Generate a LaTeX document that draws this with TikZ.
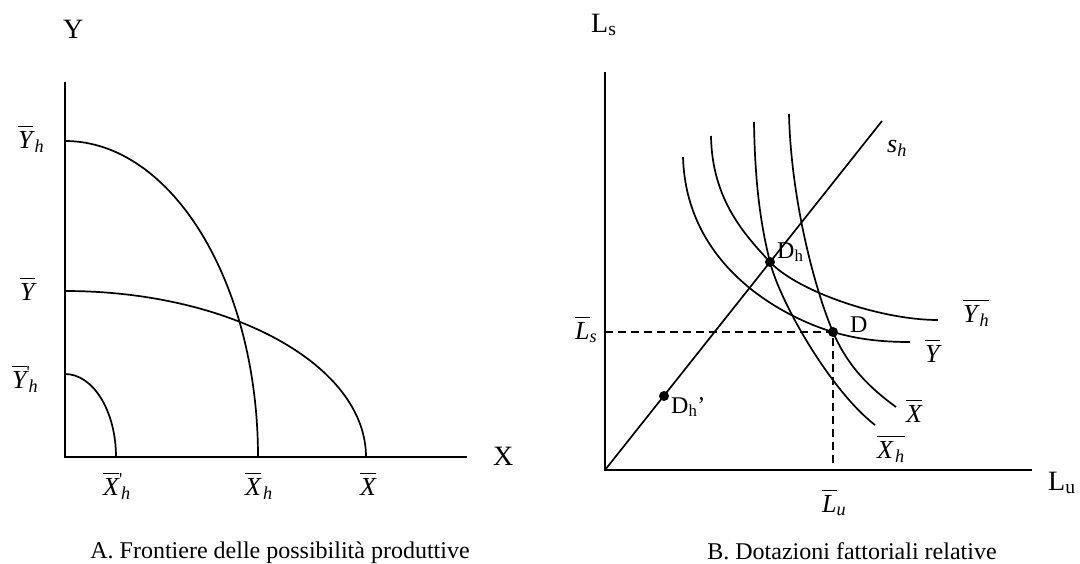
\documentclass[tikz,border=0pt]{standalone}
\usepackage{fontspec}
\setmainfont{Liberation Serif}
\usetikzlibrary{positioning}
\tikzset{
  axis/.style={line width=2pt},
  curve/.style={line width=1.7pt},
  guide/.style={line width=1.6pt,dash pattern=on 8pt off 5pt},
  pt/.style={circle,fill=black,inner sep=0pt,minimum size=10pt},
  lbl/.style={inner sep=0pt,anchor=base west,font=\fontsize{26}{30}\selectfont},
  axlbl/.style={inner sep=0pt,anchor=base west,font=\fontsize{28}{32}\selectfont},
  caption/.style={inner sep=0pt,anchor=base,font=\fontsize{24}{28}\selectfont},
}
\newcommand{\ovl}[1]{\leavevmode\vbox{\hrule height 1.2pt\kern 4pt\hbox{\itshape #1}}}
\newcommand{\sbi}[1]{\kern2pt\textsubscript{\itshape #1}}
\newcommand{\tick}{\rlap{\textsuperscript{\textquotesingle}}}

\begin{document}
\begin{tikzpicture}[x=1pt,y=-1pt]
  \useasboundingbox (0,0) rectangle (1080,563);

  % A. frontiere
  \coordinate (oA) at (65,457);
  \coordinate (yA) at (65,82);
  \coordinate (xA) at (467,457);
  \coordinate (yhA) at (65,141);
  \coordinate (ybA) at (65,291);
  \coordinate (yhpA) at (65,374);
  \coordinate (xhA) at (258,457);
  \coordinate (xbA) at (366,457);
  \coordinate (xhpA) at (116,457);
  \draw[axis] (yA) -- (oA) -- (xA);
  \draw[curve] (yhA) .. controls +(106.6,0) and +(0,-174.5) .. (xhA);
  \draw[curve] (ybA) .. controls +(166.2,0) and +(0,-91.7) .. (xbA);
  \draw[curve] (yhpA) .. controls +(28.2,0) and +(0,-45.8) .. (xhpA);

  \node[axlbl] (labY) at (63,38) {Y};
  \node[axlbl] (labX) at (493,465) {X};
  \node[lbl] (labYh) at (18,148) {\ovl{Y}\sbi{h}};
  \node[lbl] (labYb) at (20,300) {\ovl{Y}};
  \node[lbl] (labYhp) at (12,388) {\ovl{Y}\tick\sbi{h}};
  \node[lbl] (labXhp) at (103,495) {\ovl{X}\tick\sbi{h}};
  \node[lbl] (labXh) at (245,495) {\ovl{X}\sbi{h}};
  \node[lbl] (labXb) at (360,495) {\ovl{X}};
  \node[caption] (capA) at (280,558) {A. Frontiere delle possibilità produttive};

  % B. dotazioni
  \coordinate (oB) at (605,470);
  \coordinate (yB) at (605,72);
  \coordinate (xB) at (1032,470);
  \coordinate (sh) at (882,121);
  \draw[axis] (yB) -- (oB) -- (xB);
  \draw[curve] (oB) -- (sh);
  \node[pt] (Dh) at (770,262) {};
  \node[pt] (Dhp) at (664,396) {};
  \node[pt] (D) at (833,332) {};
  \coordinate (ls) at (605,332);
  \coordinate (lu) at (833,463);
  \draw[guide] (ls) -- (D.center) -- (lu);

  % isoquanti
  \coordinate (yhS) at (711,136);  \coordinate (yhE) at (938,320);
  \coordinate (ybS) at (683,157);  \coordinate (ybE) at (910,342);
  \coordinate (xhS) at (754,122);  \coordinate (xhE) at (875,425);
  \coordinate (xbS) at (789,114);  \coordinate (xbE) at (896,407);
  \draw[curve] (yhS) .. controls (712,200) and (745,235) .. (Dh.center)
                     .. controls (797,291) and (880,320) .. (yhE);
  \draw[curve] (ybS) .. controls (686,265) and (780,316) .. (D.center)
                     .. controls (860,340) and (885,342) .. (ybE);
  \draw[curve] (xhS) .. controls (755,190) and (762,230) .. (Dh.center)
                     .. controls (780,302) and (830,390) .. (xhE);
  \draw[curve] (xbS) .. controls (791,200) and (815,290) .. (D.center)
                     .. controls (848,367) and (870,388) .. (xbE);

  \node[axlbl] (labLs) at (591,32) {L\textsubscript{s}};
  \node[axlbl] (labLu) at (1048,490) {L\textsubscript{u}};
  \node[lbl] (labsh) at (887,152) {\textit{s}\textsubscript{\itshape h}};
  \node[lbl,font=\fontsize{24}{28}\selectfont] (labDh) at (777,258) {D\textsubscript{h}};
  \node[lbl,font=\fontsize{24}{28}\selectfont] (labD) at (850,332) {D};
  \node[lbl,font=\fontsize{24}{28}\selectfont] (labDhp) at (671,413) {D\textsubscript{h}’};
  \node[lbl] (labLsb) at (575,339) {\ovl{L}\textsubscript{\itshape s}};
  \node[lbl] (labLub) at (822,512) {\ovl{L}\textsubscript{\itshape u}};
  \node[lbl] (labYhB) at (963,322) {\ovl{Y\sbi{h}}};
  \node[lbl] (labYbB) at (925,362) {\ovl{Y}};
  \node[lbl] (labXbB) at (906,422) {\ovl{X}};
  \node[lbl] (labXhB) at (877,458) {\ovl{X\sbi{h}}};
  \node[caption] (capB) at (852,559) {B. Dotazioni fattoriali relative};
\end{tikzpicture}
\end{document}
